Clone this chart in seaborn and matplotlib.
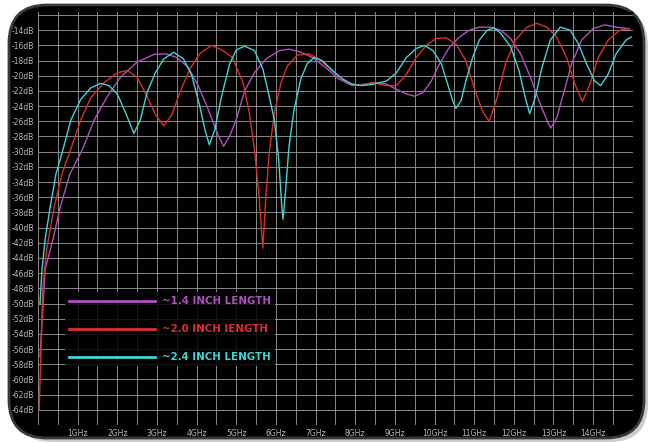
import numpy as np
import pandas as pd
import matplotlib
matplotlib.use("Agg")
import matplotlib.pyplot as plt
import matplotlib.patches as mpatches
import seaborn as sns

# frequency (GHz) / return loss (dB)
f_14 = [0.05, 0.18, 0.38, 0.55, 0.8, 1.13, 1.42, 1.75, 2.08, 2.5, 2.92, 3.21, 3.5, 3.79,
        4.04, 4.29, 4.54, 4.68, 4.83, 5.0, 5.21, 5.46, 5.75, 6.08, 6.33, 6.63, 6.92, 7.25,
        7.58, 7.92, 8.25, 8.46, 8.79, 9.04, 9.29, 9.5, 9.71, 9.92, 10.13, 10.38, 10.63,
        10.88, 11.13, 11.42, 11.67, 11.92, 12.17, 12.42, 12.67, 12.88, 12.93, 13.08, 13.25,
        13.46, 13.71, 14.0, 14.29, 14.58, 14.92]
db_14 = [-57.0, -45.5, -41.5, -37.5, -33.0, -29.6, -25.8, -22.7, -20.2, -18.2, -17.2, -17.1, -17.6, -18.9,
         -21.3, -24.4, -27.8, -29.3, -28.0, -25.8, -22.0, -19.6, -17.8, -16.7, -16.5, -16.9, -17.6, -18.9,
         -20.4, -21.3, -21.2, -20.9, -21.1, -21.8, -22.4, -22.7, -22.2, -20.7, -18.4, -16.2, -14.9,
         -14.0, -13.6, -13.6, -14.0, -15.1, -17.1, -20.2, -23.8, -26.4, -26.9, -25.6, -22.4,
         -18.4, -15.3, -13.8, -13.3, -13.6, -13.8]

f_20 = [0.03, 0.12, 0.22, 0.4, 0.6, 0.83, 1.08, 1.33, 1.67, 2.0, 2.25, 2.5, 2.75, 2.96,
        3.17, 3.38, 3.58, 3.83, 4.08, 4.38, 4.67, 4.9, 5.17, 5.33, 5.46, 5.57, 5.67, 5.75,
        5.83, 5.96, 6.13, 6.29, 6.54, 6.83, 7.08, 7.42, 7.75, 8.0, 8.46, 8.79, 9.04, 9.29,
        9.54, 9.79, 10.04, 10.29, 10.54, 10.79, 11.0, 11.21, 11.38, 11.58, 11.79, 12.04,
        12.33, 12.58, 12.83, 13.08, 13.33, 13.54, 13.73, 13.92, 14.13, 14.38, 14.67, 14.92]
db_20 = [-64.0, -48.0, -42.8, -37.5, -33.0, -29.6, -25.8, -22.9, -20.9, -19.6, -19.3, -20.2, -22.7, -25.1,
         -26.6, -25.1, -22.2, -19.1, -17.1, -16.0, -16.7, -17.6, -20.9, -24.9, -29.8, -35.6, -42.7, -35.6,
         -30.2, -24.9, -20.9, -18.7, -17.3, -17.1, -17.8, -19.3, -20.7, -21.3, -20.9, -21.3, -21.3, -19.8,
         -17.6, -16.0, -15.1, -15.0, -15.8, -18.0, -21.6, -24.7, -26.0, -22.9, -18.4, -15.3,
         -13.6, -13.1, -13.6, -14.9, -17.6, -21.1, -23.4, -21.1, -17.6, -15.3, -14.0, -13.8]

f_24 = [0.05, 0.1, 0.18, 0.3, 0.45, 0.625, 0.83, 1.08, 1.33, 1.58, 1.79, 2.0, 2.21, 2.42,
        2.58, 2.75, 2.96, 3.17, 3.42, 3.67, 3.88, 4.08, 4.21, 4.32, 4.46, 4.63, 4.83, 5.0,
        5.21, 5.46, 5.67, 5.83, 5.96, 6.07, 6.15, 6.18, 6.25, 6.33, 6.46, 6.63, 6.79, 6.96,
        7.17, 7.42, 7.67, 7.92, 8.17, 8.46, 8.79, 9.04, 9.29, 9.54, 9.75, 9.96, 10.17, 10.33,
        10.46, 10.54, 10.67, 10.79, 10.96, 11.13, 11.33, 11.5, 11.67, 11.92, 12.13, 12.29,
        12.4, 12.54, 12.71, 12.92, 13.17, 13.42, 13.63, 13.83, 14.04, 14.19, 14.38, 14.58,
        14.83, 14.96]
db_24 = [-50.0, -45.5, -41.5, -37.5, -33.0, -29.8, -25.8, -23.1, -21.6, -21.0, -21.3, -22.4, -24.9, -27.6,
         -25.8, -22.2, -19.6, -17.8, -16.9, -17.8, -20.0, -24.0, -27.1, -29.1, -27.1, -22.7, -18.5, -16.6,
         -16.1, -16.7, -19.1, -22.7, -25.8, -31.1, -37.3, -38.9, -34.7, -29.3, -24.4, -20.4, -18.4, -17.6,
         -18.0, -19.3, -20.4, -21.1, -21.3, -21.1, -20.7, -19.6, -17.6, -16.4, -16.0, -16.7, -18.4, -21.1,
         -23.3, -24.3, -23.3, -20.7, -17.6, -15.3, -14.0, -13.7, -14.4, -16.2, -19.3, -22.9,
         -25.0, -22.9, -18.9, -15.3, -13.6, -14.0, -15.8, -18.4, -20.7, -21.3, -19.8, -17.1,
         -15.3, -14.9]

labels = ["~1.4 INCH LENGTH", "~2.0 INCH IENGTH", "~2.4 INCH LENGTH"]
colors = ["#b050c0", "#d8302c", "#40d4d4"]
x_ticks = list(range(1, 15))
y_ticks = list(range(-14, -65, -2))

df = pd.concat([
    pd.DataFrame({"freq": f_14, "db": db_14, "cable": labels[0]}),
    pd.DataFrame({"freq": f_20, "db": db_20, "cable": labels[1]}),
    pd.DataFrame({"freq": f_24, "db": db_24, "cable": labels[2]}),
])

fig = plt.figure(figsize=(6.51, 4.43), dpi=100)
fig.patch.set_facecolor("white")

# rounded instrument frame (pixel coords)
shadow = mpatches.FancyBboxPatch((14, 1), 634, 434, boxstyle="round,pad=0,rounding_size=38",
                                 transform=None, facecolor="#9a9a9a", edgecolor="none",
                                 alpha=0.5, zorder=-11)
frame = mpatches.FancyBboxPatch((9, 5), 635, 433, boxstyle="round,pad=0,rounding_size=38",
                                transform=None, facecolor="black", edgecolor="#3a3a3a",
                                linewidth=2, zorder=-10)
fig.patches.extend([shadow, frame])

ax = fig.add_axes([0.0584, 0.0406, 0.9136, 0.9324])
ax.set_facecolor("black")

sns.lineplot(data=df, x="freq", y="db", hue="cable", palette=colors,
             estimator=None, sort=True, linewidth=1.0, ax=ax)

ax.set_xlim(0, 15)
ax.set_ylim(-66, -11.6)
ax.set_xticks(np.arange(0, 15.01, 0.5), minor=True)
ax.set_xticks(x_ticks)
ax.set_xticklabels([f"{t}GHz" for t in x_ticks])
ax.set_yticks(np.arange(-66, -11, 2), minor=True)
ax.set_yticks(y_ticks)
ax.set_yticklabels([f"{t}dB" for t in y_ticks])
ax.grid(which="both", color="#8a8a8a", linewidth=0.7)
ax.set_axisbelow(True)
ax.tick_params(which="both", length=0, labelsize=5.5, labelcolor="#b8b8b8", pad=3)
for s in ax.spines.values():
    s.set_visible(False)
ax.set_xlabel("")
ax.set_ylabel("")

handles = ax.get_legend().legend_handles
leg = ax.legend(handles, labels, loc="lower left", bbox_to_anchor=(0.045, 0.142),
                borderaxespad=0, frameon=True, facecolor="black", edgecolor="none",
                framealpha=0.85, handlelength=8.4, handletextpad=0.7, labelspacing=1.75,
                prop={"size": 7.4, "weight": "bold"}, labelcolor=colors)
for h in leg.legend_handles:
    h.set_linewidth(2)

fig.savefig("out.png", dpi=100, facecolor="white")
